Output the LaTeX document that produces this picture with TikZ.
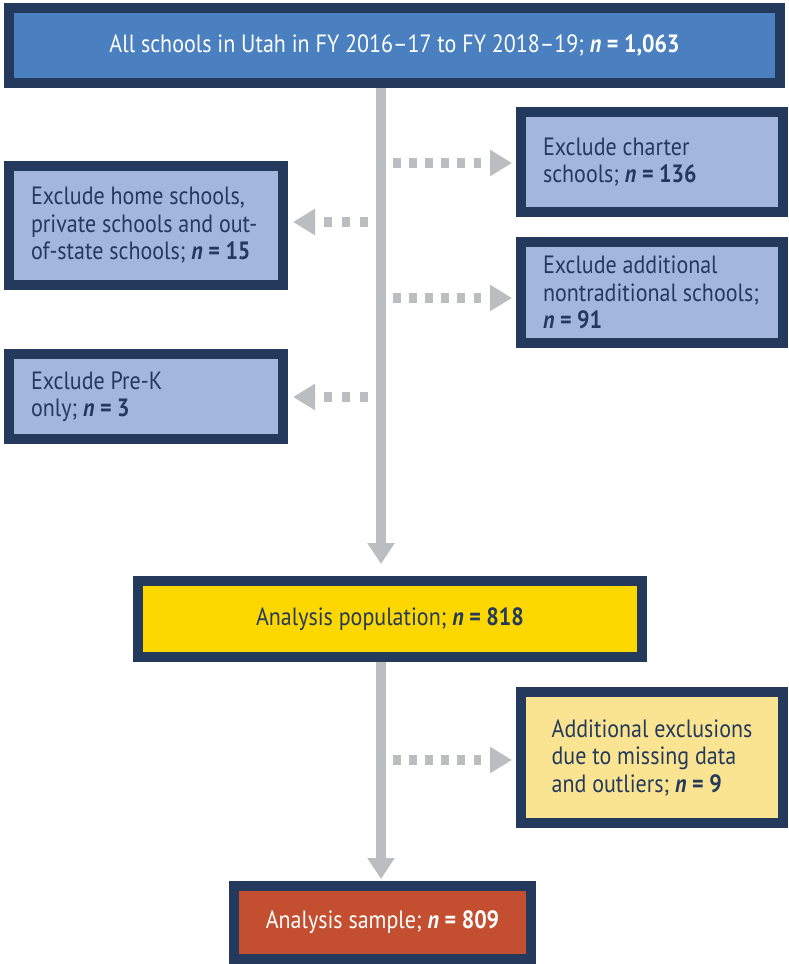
\documentclass[tikz,border=0pt]{standalone}
\usepackage{fontspec}
\setmainfont{PT Sans}[FakeStretch=0.88]
\usetikzlibrary{arrows.meta}
\definecolor{navy}{RGB}{36,58,92}
\definecolor{topblue}{RGB}{74,128,191}
\definecolor{paleblue}{RGB}{163,182,219}
\definecolor{popyellow}{RGB}{253,215,0}
\definecolor{paleyellow}{RGB}{251,228,145}
\definecolor{samplered}{RGB}{196,79,48}
\definecolor{arrowgray}{RGB}{188,189,192}
\newcommand{\nval}[1]{\textbf{\textit{n} = #1}}
\begin{document}
\begin{tikzpicture}[x=1pt,y=-1pt,
	frame/.style={draw=navy,line width=10pt,outer sep=5pt,inner ysep=0pt,font=\fontsize{25}{27.5}\selectfont},
	exclbox/.style={frame,fill=paleblue,text=navy,align=flush left,inner xsep=22pt},
	trunkarrow/.style={draw=arrowgray,line width=10pt,-{Triangle[length=21pt,width=26pt]}},
	dotsright/.style={draw=arrowgray,line width=10pt,dash pattern=on 7.7pt off 8.4pt,-{Triangle[length=22pt,width=25pt]}},
	dotsleft/.style={draw=arrowgray,line width=10pt,dash pattern=on 8.3pt off 9.7pt,-{Triangle[length=22pt,width=25pt]}}]
	\useasboundingbox[fill=white] (0,0) rectangle (788,964);

	%main boxes
	\node[frame,fill=topblue,text=white,minimum width=771pt,minimum height=75pt] (all) at (394.5,45.5)
		{All schools in Utah in FY 2016–17 to FY 2018–19; \nval{1,063}};
	\node[frame,fill=popyellow,text=navy,minimum width=504pt,minimum height=76pt] (pop) at (390,619)
		{Analysis population; \nval{818}};
	\node[frame,fill=samplered,text=white,minimum width=297pt,minimum height=73pt] (sample) at (382.5,922.5)
		{Analysis sample; \nval{809}};

	%exclusions
	\node[exclbox,text width=218pt,minimum height=100pt] (charter) at (652,162)
		{Exclude charter\\schools; \nval{136}};
	\node[exclbox,text width=230pt,minimum height=119pt] (home) at (146,225.5)
		{Exclude home schools,\\private schools and out-\\of-state schools; \nval{15}};
	\node[exclbox,text width=218pt,minimum height=101pt] (nontrad) at (652,292.5)
		{Exclude additional\\nontraditional schools;\\\nval{91}};
	\node[exclbox,text width=230pt,minimum height=85pt] (prek) at (146,396.5)
		{Exclude Pre-K\\only; \nval{3}};
	\node[exclbox,fill=paleyellow,minimum width=262pt,minimum height=131pt] (missing) at (652,757.5)
		{Additional exclusions\\due to missing data\\and outliers; \nval{9}};

	%trunk
	\coordinate (trunk) at (381,88);
	\coordinate (trunk2) at (trunk |- pop.south);
	\draw[trunkarrow] (trunk) -- ([yshift=12pt]trunk |- pop.north);
	\draw[trunkarrow] (trunk2) -- ([yshift=2pt]trunk |- sample.north);

	%dotted arrows
	\coordinate (c1) at (381,163);
	\coordinate (c2) at (381,222);
	\coordinate (c3) at (381,298);
	\coordinate (c4) at (381,397);
	\coordinate (c5) at (381,760);
	\draw[dotsright] ([xshift=12pt]c1) -- ([xshift=-4pt]c1 -| charter.west);
	\draw[dotsleft] ([xshift=-13pt]c2) -- ([xshift=5pt]c2 -| home.east);
	\draw[dotsright] ([xshift=12pt]c3) -- ([xshift=-4pt]c3 -| nontrad.west);
	\draw[dotsleft] ([xshift=-13pt]c4) -- ([xshift=5pt]c4 -| prek.east);
	\draw[dotsright] ([xshift=12pt]c5) -- ([xshift=-4pt]c5 -| missing.west);
\end{tikzpicture}
\end{document}
